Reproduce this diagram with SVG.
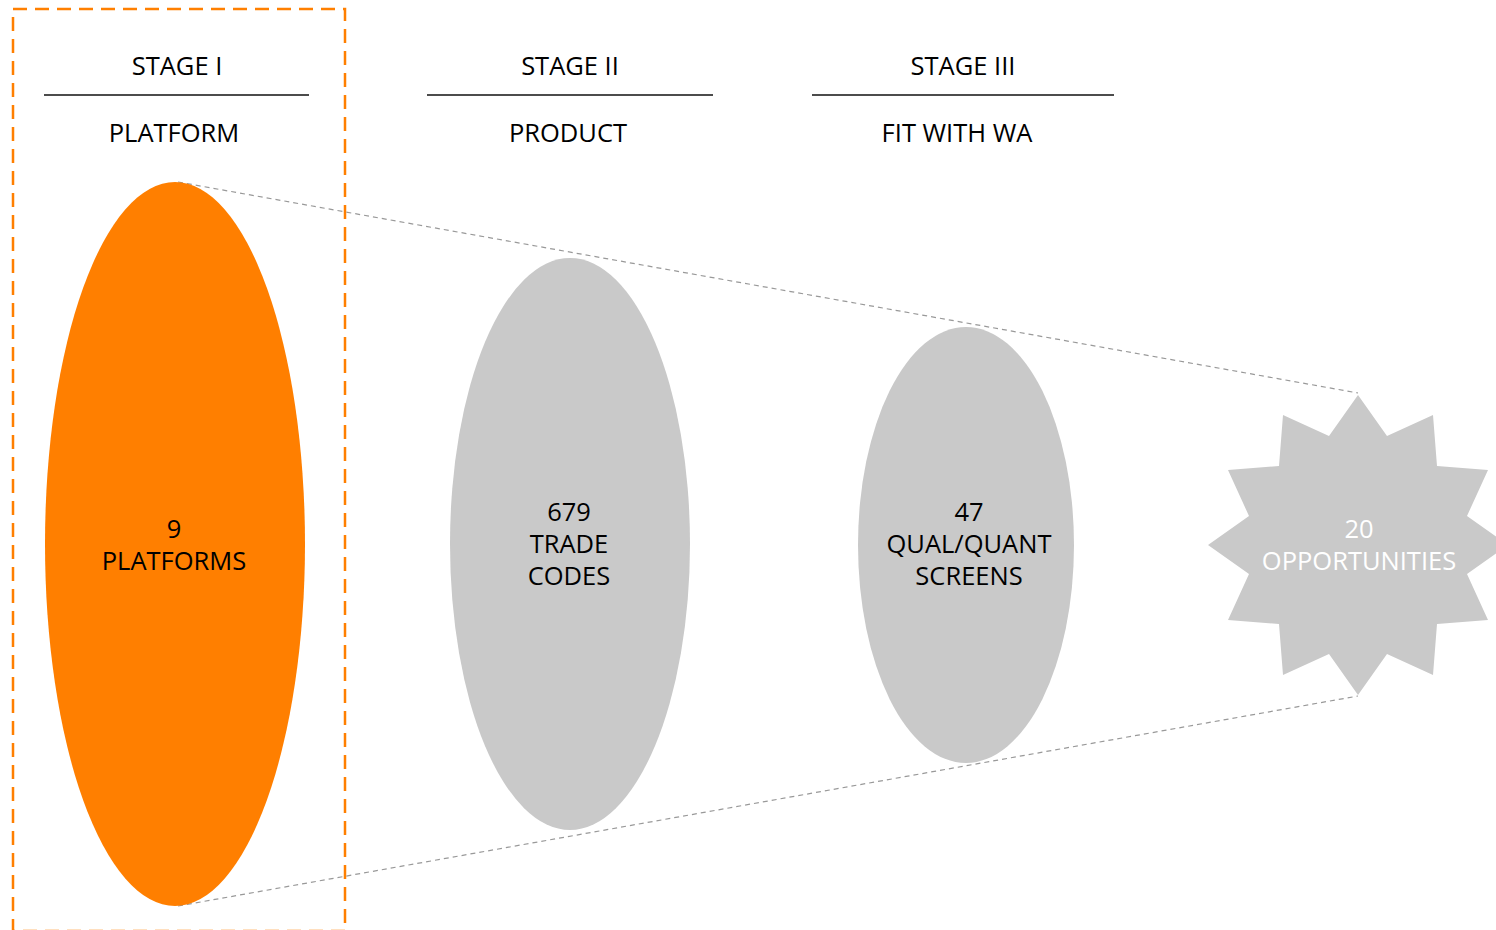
<svg xmlns="http://www.w3.org/2000/svg" width="1496" height="930" viewBox="0 0 1496 930">
<style>
text{font-family:"Open Sans","Liberation Sans",sans-serif;font-size:25.5px;fill:#000;text-anchor:middle}
.w{fill:#fff}
.rule{stroke:#111;stroke-width:1.3}
.guide{stroke:#999;stroke-width:1.2;stroke-dasharray:5 4;fill:none}
.grey{fill:#c9c9c9}
</style>
<rect width="1496" height="930" fill="#fff"/>
<g id="stage1-frame">
<rect x="13" y="9" width="332" height="922" fill="none" stroke="#ff7f00" stroke-width="2.5" stroke-dasharray="14 8"/>
</g>
<g id="headers">
<text x="177" y="75">STAGE I</text>
<line class="rule" x1="44" y1="95" x2="309" y2="95"/>
<text x="174" y="142">PLATFORM</text>
<text x="570" y="75">STAGE II</text>
<line class="rule" x1="427" y1="95" x2="713" y2="95"/>
<text x="568" y="142">PRODUCT</text>
<text x="963" y="75">STAGE III</text>
<line class="rule" x1="812" y1="95" x2="1114" y2="95"/>
<text x="957" y="142">FIT WITH WA</text>
</g>
<g id="connectors">
<line class="guide" x1="178" y1="182" x2="1358" y2="393"/>
<line class="guide" x1="178" y1="906" x2="1358" y2="696"/>
</g>
<g id="platforms">
<ellipse cx="175" cy="544" rx="130" ry="362" fill="#ff7f00"/>
<text x="174" y="538">9</text>
<text x="174" y="570">PLATFORMS</text>
</g>
<g id="trade-codes">
<ellipse class="grey" cx="570" cy="544" rx="120" ry="286"/>
<text x="569" y="521">679</text>
<text x="569" y="553">TRADE</text>
<text x="569" y="585">CODES</text>
</g>
<g id="screens">
<ellipse class="grey" cx="966" cy="545" rx="108" ry="218"/>
<text x="969" y="521">47</text>
<text x="969" y="553">QUAL/QUANT</text>
<text x="969" y="585">SCREENS</text>
</g>
<g id="opportunities">
<polygon class="grey" points="1358,395 1387,436 1433,415 1437,466 1488,470 1467,516 1508,545 1467,574 1488,620 1437,624 1433,675 1387,654 1358,695 1329,654 1283,675 1279,624 1228,620 1249,574 1208,545 1249,516 1228,470 1279,466 1283,415 1329,436"/>
<text class="w" x="1359" y="538">20</text>
<text class="w" x="1359" y="570">OPPORTUNITIES</text>
</g>
</svg>
